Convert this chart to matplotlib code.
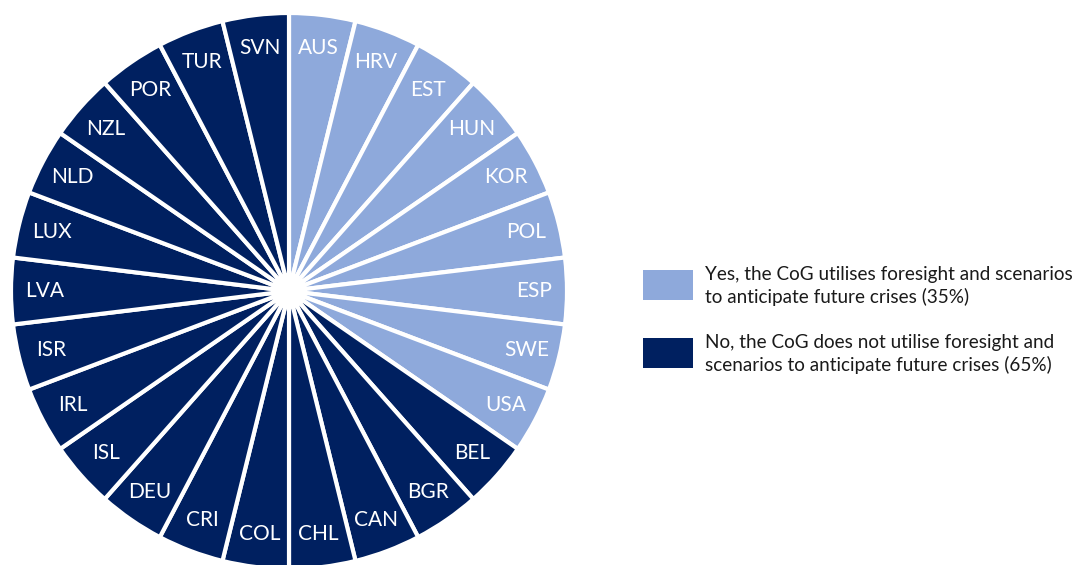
import matplotlib
matplotlib.use("Agg")
import matplotlib.pyplot as plt
from matplotlib.patches import Rectangle, Circle

# Countries, grouped by answer, in clockwise order from 12 o'clock
yes_countries = ["AUS", "HRV", "EST", "HUN", "KOR", "POL", "ESP", "SWE", "USA"]
no_countries = ["BEL", "BGR", "CAN", "CHL", "COL", "CRI", "DEU", "ISL", "IRL",
                "ISR", "LVA", "LUX", "NLD", "NZL", "POR", "TUR", "SVN"]
legend_labels = [
    "Yes, the CoG utilises foresight and scenarios\nto anticipate future crises (35%)",
    "No, the CoG does not utilise foresight and\nscenarios to anticipate future crises (65%)",
]

YES_COLOR = "#8EA9DB"
NO_COLOR = "#002060"

plt.rcParams["font.family"] = ["Lato", "DejaVu Sans"]

W, H = 1075, 565
fig = plt.figure(figsize=(W / 100, H / 100), dpi=100)

countries = yes_countries + no_countries
sizes = [1] * len(countries)
colors = [YES_COLOR] * len(yes_countries) + [NO_COLOR] * len(no_countries)

cx, cy, r = 289, 291, 278
ax = fig.add_axes([(cx - r) / W, (H - cy - r) / H, 2 * r / W, 2 * r / H])
wedges, texts = ax.pie(
    sizes, labels=countries, colors=colors, startangle=90, counterclock=False,
    labeldistance=0.88, radius=1.0,
    wedgeprops=dict(edgecolor="white", linewidth=3.0),
    textprops=dict(color="white", fontsize=15, ha="center", va="center"),
)
ax.add_patch(Circle((0, 0), 0.065, facecolor="white", edgecolor="none", zorder=5))
ax.set_xlim(-1.0, 1.0)
ax.set_ylim(-1.0, 1.0)
ax.set_aspect("equal")
ax.axis("off")
for w in wedges:
    w.set_clip_on(False)

# Legend drawn in figure pixel coordinates
legend_colors = [YES_COLOR, NO_COLOR]
box_y = [270, 338]
for label, col, y in zip(legend_labels, legend_colors, box_y):
    fig.add_artist(Rectangle((643 / W, 1 - (y + 30) / H), 50 / W, 30 / H,
                             transform=fig.transFigure, facecolor=col,
                             edgecolor="none"))
    fig.text(705 / W, 1 - (y + 16) / H, label, fontsize=13.6, color="#1a1a1a",
             ha="left", va="center", linespacing=1.3)

fig.savefig("out.png", dpi=100, facecolor="white")
